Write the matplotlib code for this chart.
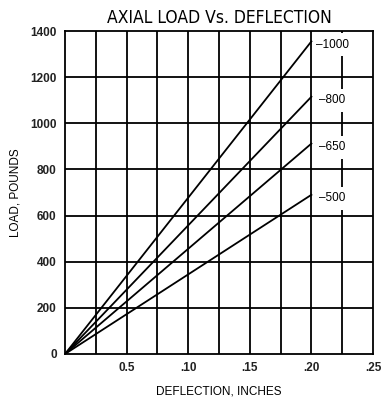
import numpy as np
import matplotlib.pyplot as plt

# spring rates and load read at the right end of each line
spring_labels = ["–1000", "–800", "–650", "–500"]
deflection = [0.0, 0.20]
end_loads = [1355, 1115, 912, 690]

x_ticks = [0.05, 0.10, 0.15, 0.20, 0.25]
x_ticklabels = ["0.5", ".10", ".15", ".20", ".25"]
y_ticks = [0, 200, 400, 600, 800, 1000, 1200, 1400]

plt.rcParams['font.family'] = ['Liberation Sans', 'DejaVu Sans']

fig = plt.figure(figsize=(3.85, 4.0), dpi=100)
ax = fig.add_axes([65 / 385, 1 - 354 / 400, 308 / 385, 323 / 400])

ax.set_xlim(0, 0.25)
ax.set_ylim(0, 1400)

# grid: every .025 in x, every 200 lb in y
for xv in np.arange(0.025, 0.25, 0.025):
    z = 1 if abs(xv - 0.225) < 1e-6 else 4
    ax.axvline(xv, color='black', lw=1.3, zorder=z)
for yv in y_ticks[1:-1]:
    ax.axhline(yv, color='black', lw=1.3, zorder=4)

for lab, load in zip(spring_labels, end_loads):
    ax.plot(deflection, [0, load], color='black', lw=1.3, zorder=5)
    ax.text(0.2168, load - 15, lab, ha='center', va='center', fontsize=8.5,
            zorder=2, bbox=dict(facecolor='white', edgecolor='none', pad=4))

for s in ax.spines.values():
    s.set_linewidth(1.3)
    s.set_zorder(6)

ax.set_xticks(x_ticks)
ax.set_xticklabels(x_ticklabels)
ax.set_yticks(y_ticks)
ax.tick_params(length=0, labelsize=8.5, pad=6)
for t in ax.get_xticklabels() + ax.get_yticklabels():
    t.set_fontweight('bold')
    t.set_color('#222222')

ax.set_xlabel("DEFLECTION, INCHES", fontsize=8.5)
ax.set_ylabel("LOAD, POUNDS", fontsize=8.5)
ax.xaxis.set_label_coords(0.5, -0.097)
ax.yaxis.set_label_coords(-0.14, 0.5)
ax.set_title("AXIAL LOAD Vs. DEFLECTION", fontsize=12.5, family='DejaVu Sans',
             fontstretch='condensed', pad=6)

fig.savefig("out.png", dpi=100)
